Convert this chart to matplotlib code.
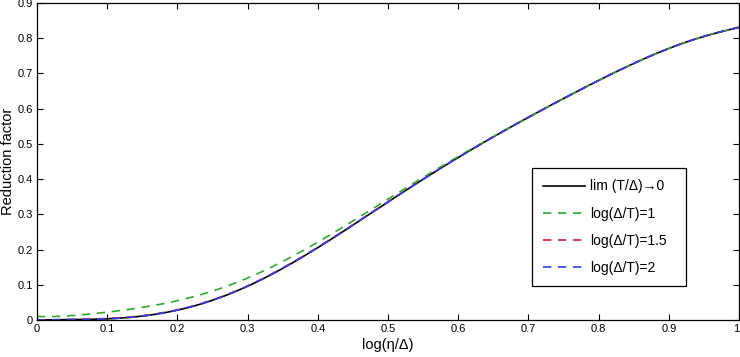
import numpy as np
import matplotlib
matplotlib.use("Agg")
import matplotlib.pyplot as plt

plt.rcParams['font.family'] = ['Liberation Sans', 'DejaVu Sans']

# values
x = [0.0, 0.05, 0.1, 0.15, 0.2, 0.25, 0.3, 0.35, 0.4, 0.45, 0.5,
     0.55, 0.6, 0.65, 0.7, 0.75, 0.8, 0.85, 0.9, 0.95, 1.0]
lim_zero = [0.0, 0.0005, 0.004, 0.012, 0.027, 0.055, 0.097, 0.148, 0.205, 0.268, 0.335,
            0.400, 0.462, 0.520, 0.575, 0.628, 0.681, 0.728, 0.771, 0.805, 0.831]
log_1 = [0.010, 0.013, 0.022, 0.035, 0.056, 0.083, 0.118, 0.165, 0.222, 0.282, 0.343,
         0.404, 0.464, 0.521, 0.576, 0.628, 0.681, 0.728, 0.771, 0.805, 0.831]
log_15 = [0.0, 0.001, 0.005, 0.013, 0.028, 0.056, 0.098, 0.149, 0.206, 0.269, 0.336,
          0.400, 0.462, 0.520, 0.575, 0.628, 0.681, 0.728, 0.771, 0.805, 0.831]
log_2 = [0.0, 0.0005, 0.004, 0.012, 0.027, 0.055, 0.097, 0.148, 0.205, 0.268, 0.335,
         0.400, 0.462, 0.520, 0.575, 0.628, 0.681, 0.728, 0.771, 0.805, 0.831]

# smooth the read points for drawing
xs = np.linspace(0, 1, 400)
def smooth(vals):
    from numpy.polynomial import polynomial as P
    c = P.polyfit(x, vals, 9)
    return P.polyval(xs, c)

fig = plt.figure(figsize=(7.4, 3.57), dpi=100)
ax = fig.add_axes([0.05, 0.1036, 0.9486, 0.888])

ax.plot(xs, smooth(lim_zero), color='black', lw=1.2, label='lim (T/Δ)→0')
ax.plot(xs, smooth(log_1), color='#2eaa2e', lw=1.2, ls=(0, (5, 4)), label='log(Δ/T)=1')
ax.plot(xs, smooth(log_15), color='#d0183c', lw=1.2, ls=(0, (5, 4)), label='log(Δ/T)=1.5')
ax.plot(xs, smooth(log_2), color='#2a40e8', lw=1.2, ls=(0, (5, 4)), label='log(Δ/T)=2')

ax.set_xlim(0, 1)
ax.set_ylim(0, 0.9)
ax.set_xticks(np.arange(0, 1.01, 0.1))
ax.set_yticks(np.arange(0, 0.91, 0.1))
ax.set_xticklabels(['0', '0.1', '0.2', '0.3', '0.4', '0.5', '0.6', '0.7', '0.8', '0.9', '1'])
ax.set_yticklabels(['0', '0.1', '0.2', '0.3', '0.4', '0.5', '0.6', '0.7', '0.8', '0.9'])
ax.get_xticklabels()[-1].set_horizontalalignment('right')
ax.tick_params(direction='in', top=True, right=True, labelsize=8, length=4, width=0.8, pad=3)
for s in ax.spines.values():
    s.set_linewidth(0.9)

ax.set_xlabel('log(η/Δ)', fontsize=10.5, labelpad=3)
ax.set_ylabel('Reduction factor', fontsize=10.5)
ax.yaxis.set_label_coords(-0.031, 0.5)

leg = ax.legend(loc='lower left', bbox_to_anchor=(0.705, 0.107, 0.219, 0.379),
                mode='expand', borderaxespad=0, fontsize=10, fancybox=False, framealpha=1,
                edgecolor='black', handlelength=3, labelspacing=0.95,
                borderpad=0.8, handletextpad=0.4)
leg.get_frame().set_linewidth(0.9)

fig.savefig('out.png', dpi=100)
